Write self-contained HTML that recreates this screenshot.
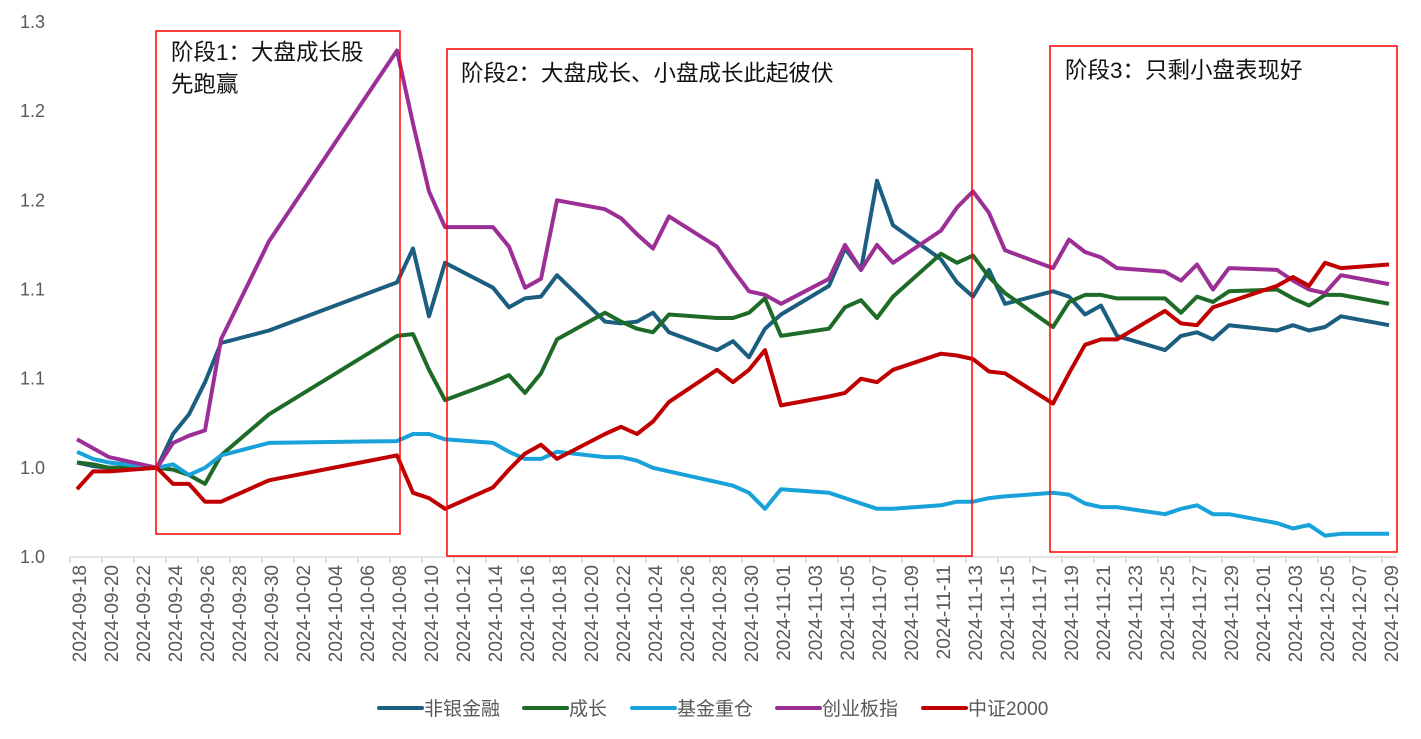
<!DOCTYPE html>
<html><head><meta charset="utf-8">
<style>
html,body{margin:0;padding:0;background:#fff;}
svg{display:block;font-family:"Liberation Sans","Noto Sans CJK SC",sans-serif;}
</style></head>
<body>
<svg id="chart" width="1421" height="739" viewBox="0 0 1421 739">
<g id="grid"></g>
<g id="series"></g>
<g id="boxes">
<rect x="156" y="31" width="244" height="503" fill="none" stroke="#ff0000" stroke-width="1.5"/>
<text x="171" y="60" font-size="22.5" fill="#111">阶段1：大盘成长股</text>
<text x="171" y="92" font-size="22.5" fill="#111">先跑赢</text>
<rect x="447" y="49" width="525" height="507" fill="none" stroke="#ff0000" stroke-width="1.5"/>
<text x="461" y="81" font-size="22.5" fill="#111">阶段2：大盘成长、小盘成长此起彼伏</text>
<rect x="1050" y="46" width="347" height="506" fill="none" stroke="#ff0000" stroke-width="1.5"/>
<text x="1065" y="78" font-size="22.5" fill="#111">阶段3：只剩小盘表现好</text>
</g>
<g id="legend"></g>
</svg>
<script>
const dates = ["2024-09-18","2024-09-19","2024-09-20","2024-09-23","2024-09-24","2024-09-25","2024-09-26","2024-09-27","2024-09-30","2024-10-08","2024-10-09","2024-10-10","2024-10-11","2024-10-14","2024-10-15","2024-10-16","2024-10-17","2024-10-18","2024-10-21","2024-10-22","2024-10-23","2024-10-24","2024-10-25","2024-10-28","2024-10-29","2024-10-30","2024-10-31","2024-11-01","2024-11-04","2024-11-05","2024-11-06","2024-11-07","2024-11-08","2024-11-11","2024-11-12","2024-11-13","2024-11-14","2024-11-15","2024-11-18","2024-11-19","2024-11-20","2024-11-21","2024-11-22","2024-11-25","2024-11-26","2024-11-27","2024-11-28","2024-11-29","2024-12-02","2024-12-03","2024-12-04","2024-12-05","2024-12-06","2024-12-09"];
const feiyin = [1.003,1.001,1.000,1.000,1.019,1.030,1.048,1.070,1.077,1.104,1.123,1.085,1.115,1.101,1.090,1.095,1.096,1.108,1.082,1.081,1.082,1.087,1.076,1.066,1.071,1.062,1.078,1.086,1.102,1.123,1.111,1.161,1.136,1.117,1.104,1.096,1.111,1.092,1.099,1.096,1.086,1.091,1.074,1.066,1.074,1.076,1.072,1.080,1.077,1.080,1.077,1.079,1.085,1.080];
const chengzhang = [1.003,1.002,1.000,1.000,0.999,0.996,0.991,1.007,1.030,1.074,1.075,1.055,1.038,1.048,1.052,1.042,1.053,1.072,1.087,1.082,1.078,1.076,1.086,1.084,1.084,1.087,1.095,1.074,1.078,1.090,1.094,1.084,1.096,1.120,1.115,1.119,1.107,1.098,1.079,1.093,1.097,1.097,1.095,1.095,1.087,1.096,1.093,1.099,1.100,1.095,1.091,1.097,1.097,1.092];
const jijin = [1.009,1.005,1.003,1.000,1.002,0.996,1.000,1.007,1.014,1.015,1.019,1.019,1.016,1.014,1.009,1.005,1.005,1.009,1.006,1.006,1.004,1.000,0.998,0.992,0.990,0.986,0.977,0.988,0.986,0.983,0.980,0.977,0.977,0.979,0.981,0.981,0.983,0.984,0.986,0.985,0.980,0.978,0.978,0.974,0.977,0.979,0.974,0.974,0.969,0.966,0.968,0.962,0.963,0.963];
const chuangye = [1.016,1.011,1.006,1.000,1.014,1.018,1.021,1.072,1.127,1.234,1.193,1.155,1.135,1.135,1.124,1.101,1.106,1.150,1.145,1.140,1.131,1.123,1.141,1.124,1.111,1.099,1.097,1.092,1.106,1.125,1.111,1.125,1.115,1.133,1.146,1.155,1.143,1.122,1.112,1.128,1.121,1.118,1.112,1.110,1.105,1.114,1.100,1.112,1.111,1.105,1.100,1.098,1.108,1.103];
const zz2000 = [0.988,0.998,0.998,1.000,0.991,0.991,0.981,0.981,0.993,1.007,0.986,0.983,0.977,0.989,0.999,1.008,1.013,1.005,1.019,1.023,1.019,1.026,1.037,1.055,1.048,1.055,1.066,1.035,1.040,1.042,1.050,1.048,1.055,1.064,1.063,1.061,1.054,1.053,1.036,1.053,1.069,1.072,1.072,1.088,1.081,1.080,1.090,1.093,1.102,1.107,1.102,1.115,1.112,1.114];
const seriesNames = ["非银金融","成长","基金重仓","创业板指","中证2000"];
const yTicks = [0.95,1.00,1.05,1.10,1.15,1.20,1.25];
const yTickLabels = ["1.0","1.0","1.1","1.1","1.2","1.2","1.3"];

const allSeries = [feiyin, chengzhang, jijin, chuangye, zz2000];
const colors = ["#1b5e80","#1d6b26","#18a2d9","#9b2f96","#c00000"];
const seriesKeys = ["feiyin","chengzhang","jijin","chuangye","zz2000"];
const NS = "http://www.w3.org/2000/svg";
const startDate = Date.UTC(2024,8,18), endDate = Date.UTC(2024,11,9);
const X0 = 77, X1 = 1389, Y0 = 557, Y1 = 22, VMIN = 0.95, VMAX = 1.25;
function dayOf(s){const p=s.split("-");return (Date.UTC(+p[0],+p[1]-1,+p[2])-startDate)/86400000;}
const totalDays = (endDate-startDate)/86400000;
function xScale(s){return X0 + (X1-X0)*dayOf(s)/totalDays;}
function yScale(v){return Y0 - (Y0-Y1)*(v-VMIN)/(VMAX-VMIN);}
function mk(tag, attrs, parent){const e=document.createElementNS(NS,tag);for(const k in attrs)e.setAttribute(k,attrs[k]);parent.appendChild(e);return e;}

const grid = document.getElementById("grid");
yTicks.forEach((t,i)=>{
  const e = mk("text",{x:45,y:yScale(t)+6,"text-anchor":"end","font-size":"18",fill:"#595959"},grid);
  
  
  e.textContent = yTickLabels[i];
});
const axis = mk("line",{x1:70,x2:1397,y1:Y0,y2:Y0,stroke:"#d9d9d9","stroke-width":"1.5"},grid);


for(let d=0; d<=totalDays; d+=2){
  const x = X0 + (X1-X0)*d/totalDays;
  const tk = mk("line",{x1:x-7,x2:x-7,y1:Y0,y2:Y0+6,stroke:"#d9d9d9","stroke-width":"1.5"},grid);
  
  
  const dt = new Date(startDate + d*86400000);
  const lbl = dt.getUTCFullYear()+"-"+String(dt.getUTCMonth()+1).padStart(2,"0")+"-"+String(dt.getUTCDate()).padStart(2,"0");
  const tx = mk("text",{x:0,y:0,"text-anchor":"end","font-size":"19",fill:"#595959",transform:`translate(${x+9},565) rotate(-90)`},grid);
  
  
  tx.textContent = lbl;
}
const sg = document.getElementById("series");
allSeries.forEach((vals,si)=>{
  const pts = vals.map((v,i)=>xScale(dates[i]).toFixed(1)+","+yScale(v).toFixed(1)).join(" ");
  const pl = mk("polyline",{points:pts,fill:"none",stroke:colors[si],"stroke-width":"4","stroke-linejoin":"round"},sg);
  
  
});
const lg = document.getElementById("legend");
const legX = [379,524,632,777,923];
seriesNames.forEach((n,i)=>{
  const ln = mk("line",{x1:legX[i],x2:legX[i]+43,y1:708,y2:708,stroke:colors[i],"stroke-width":"4","stroke-linecap":"round"},lg);
  
  
  const t = mk("text",{x:legX[i]+45,y:715,"font-size":"19",fill:"#595959"},lg);
  
  
  t.textContent = n;
});
</script>
</body></html>
